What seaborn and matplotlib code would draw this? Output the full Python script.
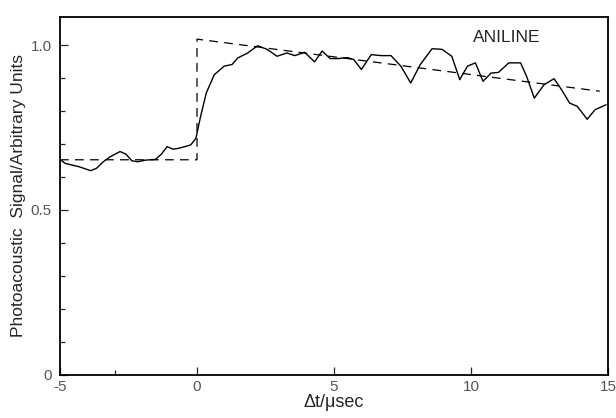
import numpy as np
import pandas as pd
import matplotlib
matplotlib.use('Agg')
import matplotlib.pyplot as plt
import seaborn as sns

# Signal trace
t_us = [-5.0, -4.81, -4.31, -3.88, -3.67, -3.42, -3.17, -2.81, -2.59, -2.38,
        -2.16, -1.88, -1.52, -1.30, -1.09, -0.87, -0.66, -0.44, -0.23, -0.04,
        0.13, 0.34, 0.63, 0.99, 1.28, 1.49, 1.85, 2.21, 2.56, 2.92,
        3.28, 3.57, 3.93, 4.29, 4.57, 4.86, 5.14, 5.50, 5.72, 6.0,
        6.36, 6.72, 7.08, 7.44, 7.80, 8.15, 8.58, 8.94, 9.30, 9.59,
        9.87, 10.16, 10.44, 10.73, 11.0, 11.38, 11.81, 12.03, 12.31, 12.67,
        13.03, 13.31, 13.60, 13.88, 14.24, 14.53, 14.93]
signal = [0.653, 0.641, 0.631, 0.619, 0.626, 0.646, 0.661, 0.677, 0.669, 0.649,
          0.646, 0.651, 0.653, 0.669, 0.692, 0.684, 0.687, 0.692, 0.697, 0.717,
          0.783, 0.855, 0.910, 0.936, 0.941, 0.961, 0.976, 0.998, 0.987, 0.966,
          0.976, 0.968, 0.978, 0.949, 0.982, 0.959, 0.959, 0.962, 0.956, 0.926,
          0.971, 0.968, 0.968, 0.936, 0.885, 0.941, 0.989, 0.987, 0.966, 0.895,
          0.936, 0.946, 0.890, 0.915, 0.917, 0.946, 0.946, 0.905, 0.839, 0.880,
          0.898, 0.864, 0.824, 0.814, 0.775, 0.804, 0.819]

# Dashed step + decay fit
fit_t = [-5.0, 0.0, 0.0, 14.7]
fit_y = [0.652, 0.652, 1.018, 0.860]

trace = pd.DataFrame({'t': t_us, 's': signal})
fit = pd.DataFrame({'t': fit_t, 'y': fit_y})

sns.set_style('ticks')
plt.rcParams['font.family'] = ['Liberation Sans', 'DejaVu Sans']

fig = plt.figure(figsize=(6.16, 4.18), dpi=100)
ax = fig.add_axes([0.0974, 0.1036, 0.8896, 0.8564])

sns.lineplot(data=trace, x='t', y='s', ax=ax, color='black', lw=1.0,
             estimator=None, sort=False)
sns.lineplot(data=fit, x='t', y='y', ax=ax, color='black', lw=0.9,
             estimator=None, sort=False, linestyle=(0, (7, 5)))

ax.set_xlim(-5, 15)
ax.set_ylim(0, 1.086)
ax.set_xticks([-5, 0, 5, 10, 15])
ax.set_xticklabels(['-5', '0', '5', '10', '15'])
ax.set_xticks([-3], minor=True)
ax.set_yticks([0, 0.5, 1.0])
ax.set_yticklabels(['0', '0.5', '1.0'])
ax.set_yticks(np.arange(0.1, 1.05, 0.1), minor=True)
ax.tick_params(direction='in', which='major', length=6, width=0.9,
               labelsize=11, labelcolor='#555555')
ax.tick_params(axis='x', which='major', pad=4)
ax.tick_params(axis='y', which='major', pad=6)
ax.tick_params(direction='in', which='minor', length=3.5, width=0.9)
for sp in ax.spines.values():
    sp.set_linewidth(1.3)
    sp.set_color('black')

ax.set_xlabel('Δt/μsec', fontsize=13, labelpad=0)
ax.set_ylabel('Photoacoustic  Signal/Arbitrary Units', fontsize=12.5, labelpad=3)
ax.text(11.3, 1.022, 'ANILINE', fontsize=12.5, ha='center', va='center')

fig.savefig('out.png', dpi=100)
